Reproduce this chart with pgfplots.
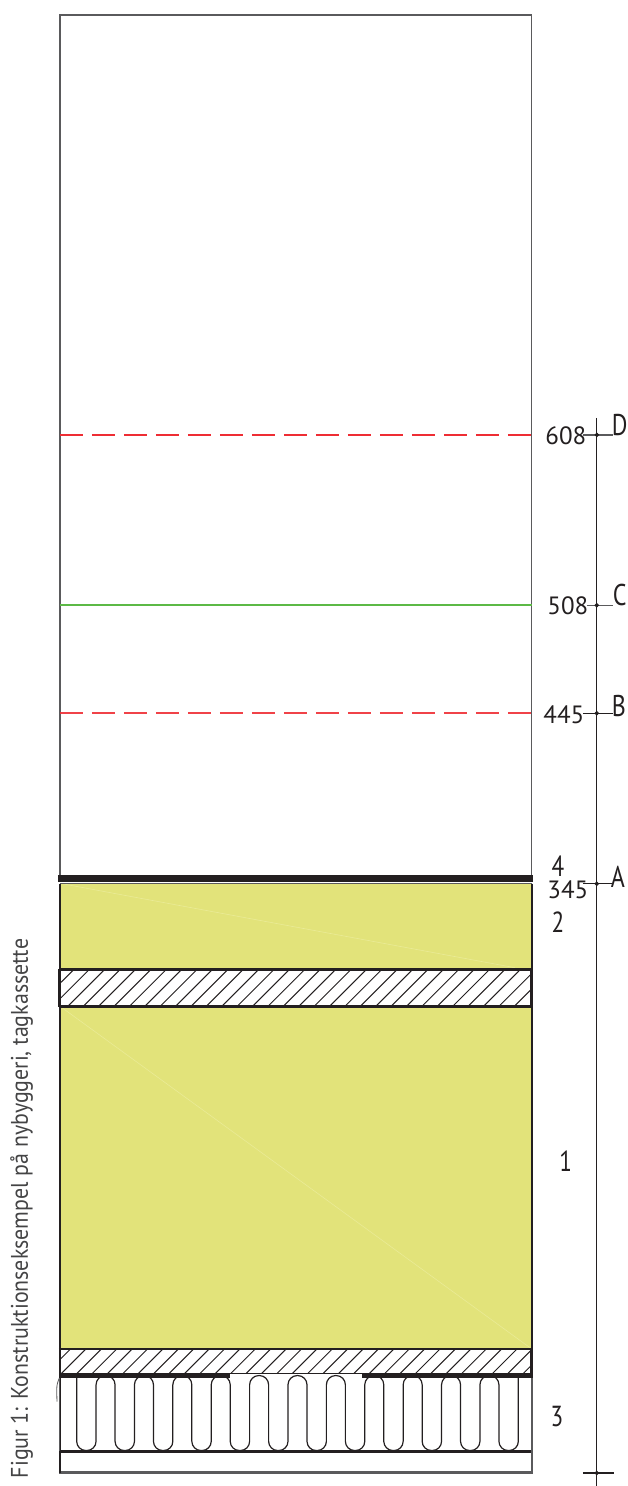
\documentclass[border=0pt]{standalone}
\usepackage{fontspec}
\setmainfont{PT Sans}
\usepackage{pgfplots}
\pgfplotsset{compat=1.18}
\definecolor{insul}{RGB}{226,227,122}
\definecolor{insulseam}{RGB}{234,235,150}
\definecolor{redline}{RGB}{238,45,52}
\definecolor{greenline}{RGB}{92,185,70}
\definecolor{frame}{RGB}{90,90,92}
\definecolor{ink}{RGB}{35,31,32}
\begin{document}
\begin{tikzpicture}
  % one axis unit is one pixel of the drawing, y runs downwards
  \begin{axis}[
    scale only axis,
    width=313.5pt,
    height=743pt,
    xmin=0, xmax=627,
    ymin=0, ymax=1486,
    y dir=reverse,
    hide axis,
    clip=false,
    unbounded coords=jump,
    no markers,
    every axis plot/.append style={line cap=butt, line join=miter}
    ]
    % keep the whole sheet in the page, hide axis drops it from the box
    \path (axis cs:0,0) -- (axis cs:627,1486);

    % insulation layers 1 and 2
    \addplot[fill=insul, draw=none] coordinates {(60,884) (532,884) (532,971) (60,971)} --cycle;
    \addplot[fill=insul, draw=none] coordinates {(60,1006) (532,1006) (532,1350) (60,1350)} --cycle;
    \addplot[insulseam, line width=0.3pt] coordinates {(62,884) (515,968)};
    \addplot[insulseam, line width=0.3pt] coordinates {(62,1008) (530,1348)};

    % hatching, upper batten
    \addplot[ink, line width=0.5pt] coordinates {
      (61,982.7) (72.7,971) (nan,nan) (61,998.1) (88.1,971) (nan,nan)
      (68.5,1006) (103.5,971) (nan,nan) (83.9,1006) (118.9,971) (nan,nan)
      (99.3,1006) (134.3,971) (nan,nan) (114.7,1006) (149.7,971) (nan,nan)
      (130.1,1006) (165.1,971) (nan,nan) (145.5,1006) (180.5,971) (nan,nan)
      (160.9,1006) (195.9,971) (nan,nan) (176.3,1006) (211.3,971) (nan,nan)
      (191.7,1006) (226.7,971) (nan,nan) (207.1,1006) (242.1,971) (nan,nan)
      (222.5,1006) (257.5,971) (nan,nan) (237.9,1006) (272.9,971) (nan,nan)
      (253.3,1006) (288.3,971) (nan,nan) (268.7,1006) (303.7,971) (nan,nan)
      (284.1,1006) (319.1,971) (nan,nan) (299.5,1006) (334.5,971) (nan,nan)
      (314.9,1006) (349.9,971) (nan,nan) (330.3,1006) (365.3,971) (nan,nan)
      (345.7,1006) (380.7,971) (nan,nan) (361.1,1006) (396.1,971) (nan,nan)
      (376.5,1006) (411.5,971) (nan,nan) (391.9,1006) (426.9,971) (nan,nan)
      (407.3,1006) (442.3,971) (nan,nan) (422.7,1006) (457.7,971) (nan,nan)
      (438.1,1006) (473.1,971) (nan,nan) (453.5,1006) (488.5,971) (nan,nan)
      (468.9,1006) (503.9,971) (nan,nan) (484.3,1006) (519.3,971) (nan,nan)
      (499.7,1006) (531,974.7) (nan,nan) (515.1,1006) (531,990.1)
    };
    % hatching, lower batten
    \addplot[ink, line width=0.5pt] coordinates {
      (61,1359) (70,1350) (nan,nan) (61.4,1374) (85.4,1350) (nan,nan)
      (76.8,1374) (100.8,1350) (nan,nan) (92.2,1374) (116.2,1350) (nan,nan)
      (107.6,1374) (131.6,1350) (nan,nan) (123,1374) (147,1350) (nan,nan)
      (138.4,1374) (162.4,1350) (nan,nan) (153.8,1374) (177.8,1350) (nan,nan)
      (169.2,1374) (193.2,1350) (nan,nan) (184.6,1374) (208.6,1350) (nan,nan)
      (200,1374) (224,1350) (nan,nan) (215.4,1374) (239.4,1350) (nan,nan)
      (230.8,1374) (254.8,1350) (nan,nan) (246.2,1374) (270.2,1350) (nan,nan)
      (261.6,1374) (285.6,1350) (nan,nan) (277,1374) (301,1350) (nan,nan)
      (292.4,1374) (316.4,1350) (nan,nan) (307.8,1374) (331.8,1350) (nan,nan)
      (323.2,1374) (347.2,1350) (nan,nan) (338.6,1374) (362.6,1350) (nan,nan)
      (354,1374) (378,1350) (nan,nan) (369.4,1374) (393.4,1350) (nan,nan)
      (384.8,1374) (408.8,1350) (nan,nan) (400.2,1374) (424.2,1350) (nan,nan)
      (415.6,1374) (439.6,1350) (nan,nan) (431,1374) (455,1350) (nan,nan)
      (446.4,1374) (470.4,1350) (nan,nan) (461.8,1374) (485.8,1350) (nan,nan)
      (477.2,1374) (501.2,1350) (nan,nan) (492.6,1374) (516.6,1350) (nan,nan)
      (508,1374) (531,1351) (nan,nan) (523.4,1374) (531,1366.4)
    };

    % serpentine insulation, layer 3
    \addplot[ink, line width=0.6pt, rounded corners=4.6pt] coordinates {
      (76.7,1374) (76.7,1451) (96.1,1451) (96.1,1376) (115.1,1376) (115.1,1451)
      (134.5,1451) (134.5,1376) (153.5,1376) (153.5,1451) (172.9,1451) (172.9,1376)
      (191.9,1376) (191.9,1451) (211.3,1451) (211.3,1376) (230.3,1376) (230.3,1451)
      (249.7,1451) (249.7,1376) (268.7,1376) (268.7,1451) (288.1,1451) (288.1,1376)
      (307.1,1376) (307.1,1451) (326.5,1451) (326.5,1376) (345.5,1376) (345.5,1451)
      (364.9,1451) (364.9,1376) (383.9,1376) (383.9,1451) (403.3,1451) (403.3,1376)
      (422.3,1376) (422.3,1451) (441.7,1451) (441.7,1376) (460.7,1376) (460.7,1451)
      (480.1,1451) (480.1,1376) (499.1,1376) (499.1,1451) (518.5,1451) (518.5,1374)
    };
    \addplot[frame, line width=0.4pt, smooth] coordinates {(57,1402) (57,1386) (60,1377)};

    % outline
    \addplot[frame, line width=0.6pt] coordinates {(60,877) (60,15) (532,15) (532,877)};
    \addplot[frame, line width=0.7pt] coordinates {(60,884) (532,884)};
    \addplot[ink, line width=0.8pt] coordinates {(60,884) (60,1451)};
    \addplot[ink, line width=0.8pt] coordinates {(532,884) (532,1376)};
    \addplot[frame, line width=0.5pt] coordinates {(60,1376) (60,1451)};
    \addplot[frame, line width=0.7pt] coordinates {(532,1376) (532,1473)};
    \addplot[ink, line width=3.6pt] coordinates {(58,879) (533.5,879)};

    % batten edges
    \addplot[ink, line width=1.2pt] coordinates {(59,970) (533,970)};
    \addplot[ink, line width=1.4pt] coordinates {(59,1006.5) (533,1006.5)};
    \addplot[ink, line width=1.5pt] coordinates {(60,969.5) (60,1007)};
    \addplot[ink, line width=1.5pt] coordinates {(532,969.5) (532,1007)};
    \addplot[ink, line width=1.1pt] coordinates {(59,1349.5) (533,1349.5)};
    \addplot[ink, line width=1.1pt] coordinates {(60,1349) (60,1378)};
    \addplot[ink, line width=1.5pt] coordinates {(532,1349) (532,1378)};
    \addplot[ink, line width=0.7pt] coordinates {(60,1374) (532,1374)};
    \addplot[ink, line width=2.2pt] coordinates {(60,1376) (230,1376)};
    \addplot[ink, line width=2.2pt] coordinates {(362,1376) (533,1376)};

    % bottom board
    \addplot[ink, line width=1.5pt] coordinates {(60,1451.5) (531,1451.5)};
    \addplot[frame, line width=1.2pt] coordinates {(59,1473) (533,1473)};
    \addplot[ink, line width=1.1pt] coordinates {(60,1451) (60,1473)};

    % levels
    \addplot[redline, line width=1.2pt, dash pattern=on 11.75pt off 4.25pt] coordinates {(60,435) (532,435)};
    \addplot[redline, opacity=0.9, line width=1.2pt, dash pattern=on 11.75pt off 4.25pt] coordinates {(60,713.5) (532,713.5)};
    \addplot[greenline, line width=1.1pt] coordinates {(60,605.5) (532,605.5)};

    % dimension line
    \addplot[ink, line width=0.5pt] coordinates {(597,418) (597,1486)};
    \addplot[frame, line width=0.7pt] coordinates {(583,435) (613,435)};
    \addplot[frame, line width=0.7pt] coordinates {(587,605.5) (613,605.5)};
    \addplot[ink, line width=0.5pt] coordinates {(583,713.5) (613,713.5)};
    \addplot[ink, line width=0.5pt] coordinates {(583,884) (612,884)};
    \addplot[ink, line width=0.7pt] coordinates {(583,1473.5) (614,1473.5)};
    \addplot[only marks, mark=*, mark size=0.9pt, ink] coordinates {
      (597,435) (597,605.5) (597,713.5) (597,884) (597,1473.5)};

    % labels
    \begin{scope}[every node/.style={text=ink, inner sep=0pt, font=\fontsize{12.5}{13}\selectfont}]
      \node at (axis cs:566,436) {608};
      \node at (axis cs:568,606) {508};
      \node at (axis cs:564,715) {445};
      \node at (axis cs:568,890) {345};
      \node[font=\fontsize{14.5}{15}\selectfont, xscale=0.8] at (axis cs:558,866) {4};
      \node[font=\fontsize{14.5}{15}\selectfont, xscale=0.8] at (axis cs:558,922) {2};
      \node[font=\fontsize{14.5}{15}\selectfont, xscale=0.8] at (axis cs:566,1162) {1};
      \node[font=\fontsize{14.5}{15}\selectfont, xscale=0.8] at (axis cs:557,1417) {3};
      \node[font=\fontsize{15}{15}\selectfont, xscale=0.8] at (axis cs:620,425) {D};
      \node[font=\fontsize{15}{15}\selectfont, xscale=0.8] at (axis cs:620,595) {C};
      \node[font=\fontsize{15}{15}\selectfont, xscale=0.8] at (axis cs:619,706) {B};
      \node[font=\fontsize{15}{15}\selectfont, xscale=0.8] at (axis cs:618,877) {A};
      \node[rotate=90, anchor=base west, font=\fontsize{12}{12}\selectfont, text=frame!75!black]
        at (axis cs:28,1479) {\scalebox{0.912}[1]{Figur 1: Konstruktionseksempel på nybyggeri, tagkassette}};
    \end{scope}
  \end{axis}
\end{tikzpicture}
\end{document}
